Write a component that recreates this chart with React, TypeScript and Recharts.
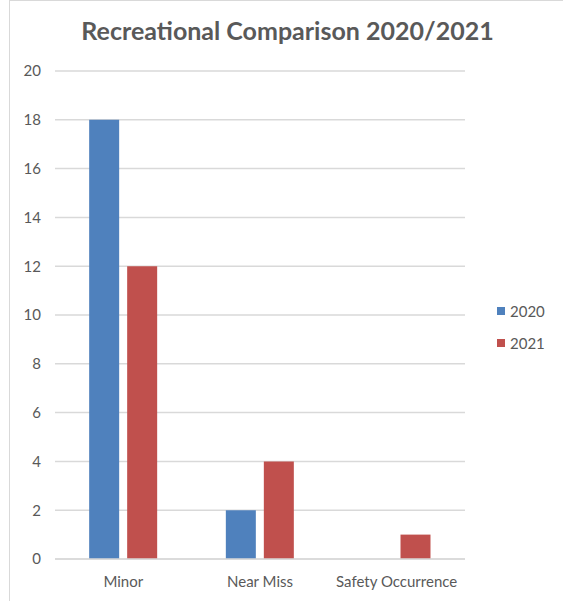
import React from "react";
import { BarChart, Bar, XAxis, YAxis, CartesianGrid } from "recharts";

const categories = ["Minor", "Near Miss", "Safety Occurrence"];
const values2020 = [18, 2, 0];
const values2021 = [12, 4, 1];
const yTicks = [0, 2, 4, 6, 8, 10, 12, 14, 16, 18, 20];
const seriesNames = ["2020", "2021"];
const seriesColors = ["#4F81BD", "#C0504D"];
const title = "Recreational Comparison 2020/2021";

const data = categories.map((c, i) => ({
  name: c,
  "2020": values2020[i],
  "2021": values2021[i],
}));

const FONT = "Lato, 'Open Sans', sans-serif";

export default function App() {
  return (
    <div style={{ position: "fixed", left: 0, top: 0, width: 563, height: 601, background: "#fff", overflow: "hidden" }}>
      <div style={{ position: "absolute", left: 9, top: 0, width: 600, height: 700, borderLeft: "1px solid #D9D9D9", borderTop: "1px solid #D9D9D9" }} />
      <div style={{ position: "absolute", left: 0, width: 575, top: 15, textAlign: "center", fontFamily: FONT, fontWeight: 700, fontSize: 25, color: "#595959" }}>
        {title}
      </div>
      <div style={{ position: "absolute", left: 0, top: 0 }}>
        <BarChart width={563} height={601} data={data} margin={{ top: 71, right: 98, bottom: 0, left: 0 }} barCategoryGap="25%" barGap={8}>
          <CartesianGrid vertical={false} stroke="#D9D9D9" strokeWidth={1.5} />
          <XAxis dataKey="name" height={42} axisLine={{ stroke: "#D9D9D9", strokeWidth: 1.5 }} tickLine={false} tickSize={0} tickMargin={17} tick={{ fill: "#595959", fontSize: 15, fontFamily: FONT }} interval={0} />
          <YAxis width={55} domain={[0, 20]} ticks={yTicks} axisLine={false} tickLine={false} tickSize={0} tickMargin={14} tick={{ fill: "#595959", fontSize: 15, fontFamily: FONT }} />
          {seriesNames.map((n, i) => (
            <Bar key={n} dataKey={n} fill={seriesColors[i]} isAnimationActive={false} />
          ))}
        </BarChart>
      </div>
      <div style={{ position: "absolute", left: 497, top: 295, fontFamily: FONT, fontSize: 15, color: "#595959" }}>
        {seriesNames.map((n, i) => (
          <div key={n} style={{ display: "flex", alignItems: "center", height: 32 }}>
            <span style={{ display: "inline-block", width: 8, height: 8, background: seriesColors[i], marginRight: 5 }} />
            <span>{n}</span>
          </div>
        ))}
      </div>
    </div>
  );
}
